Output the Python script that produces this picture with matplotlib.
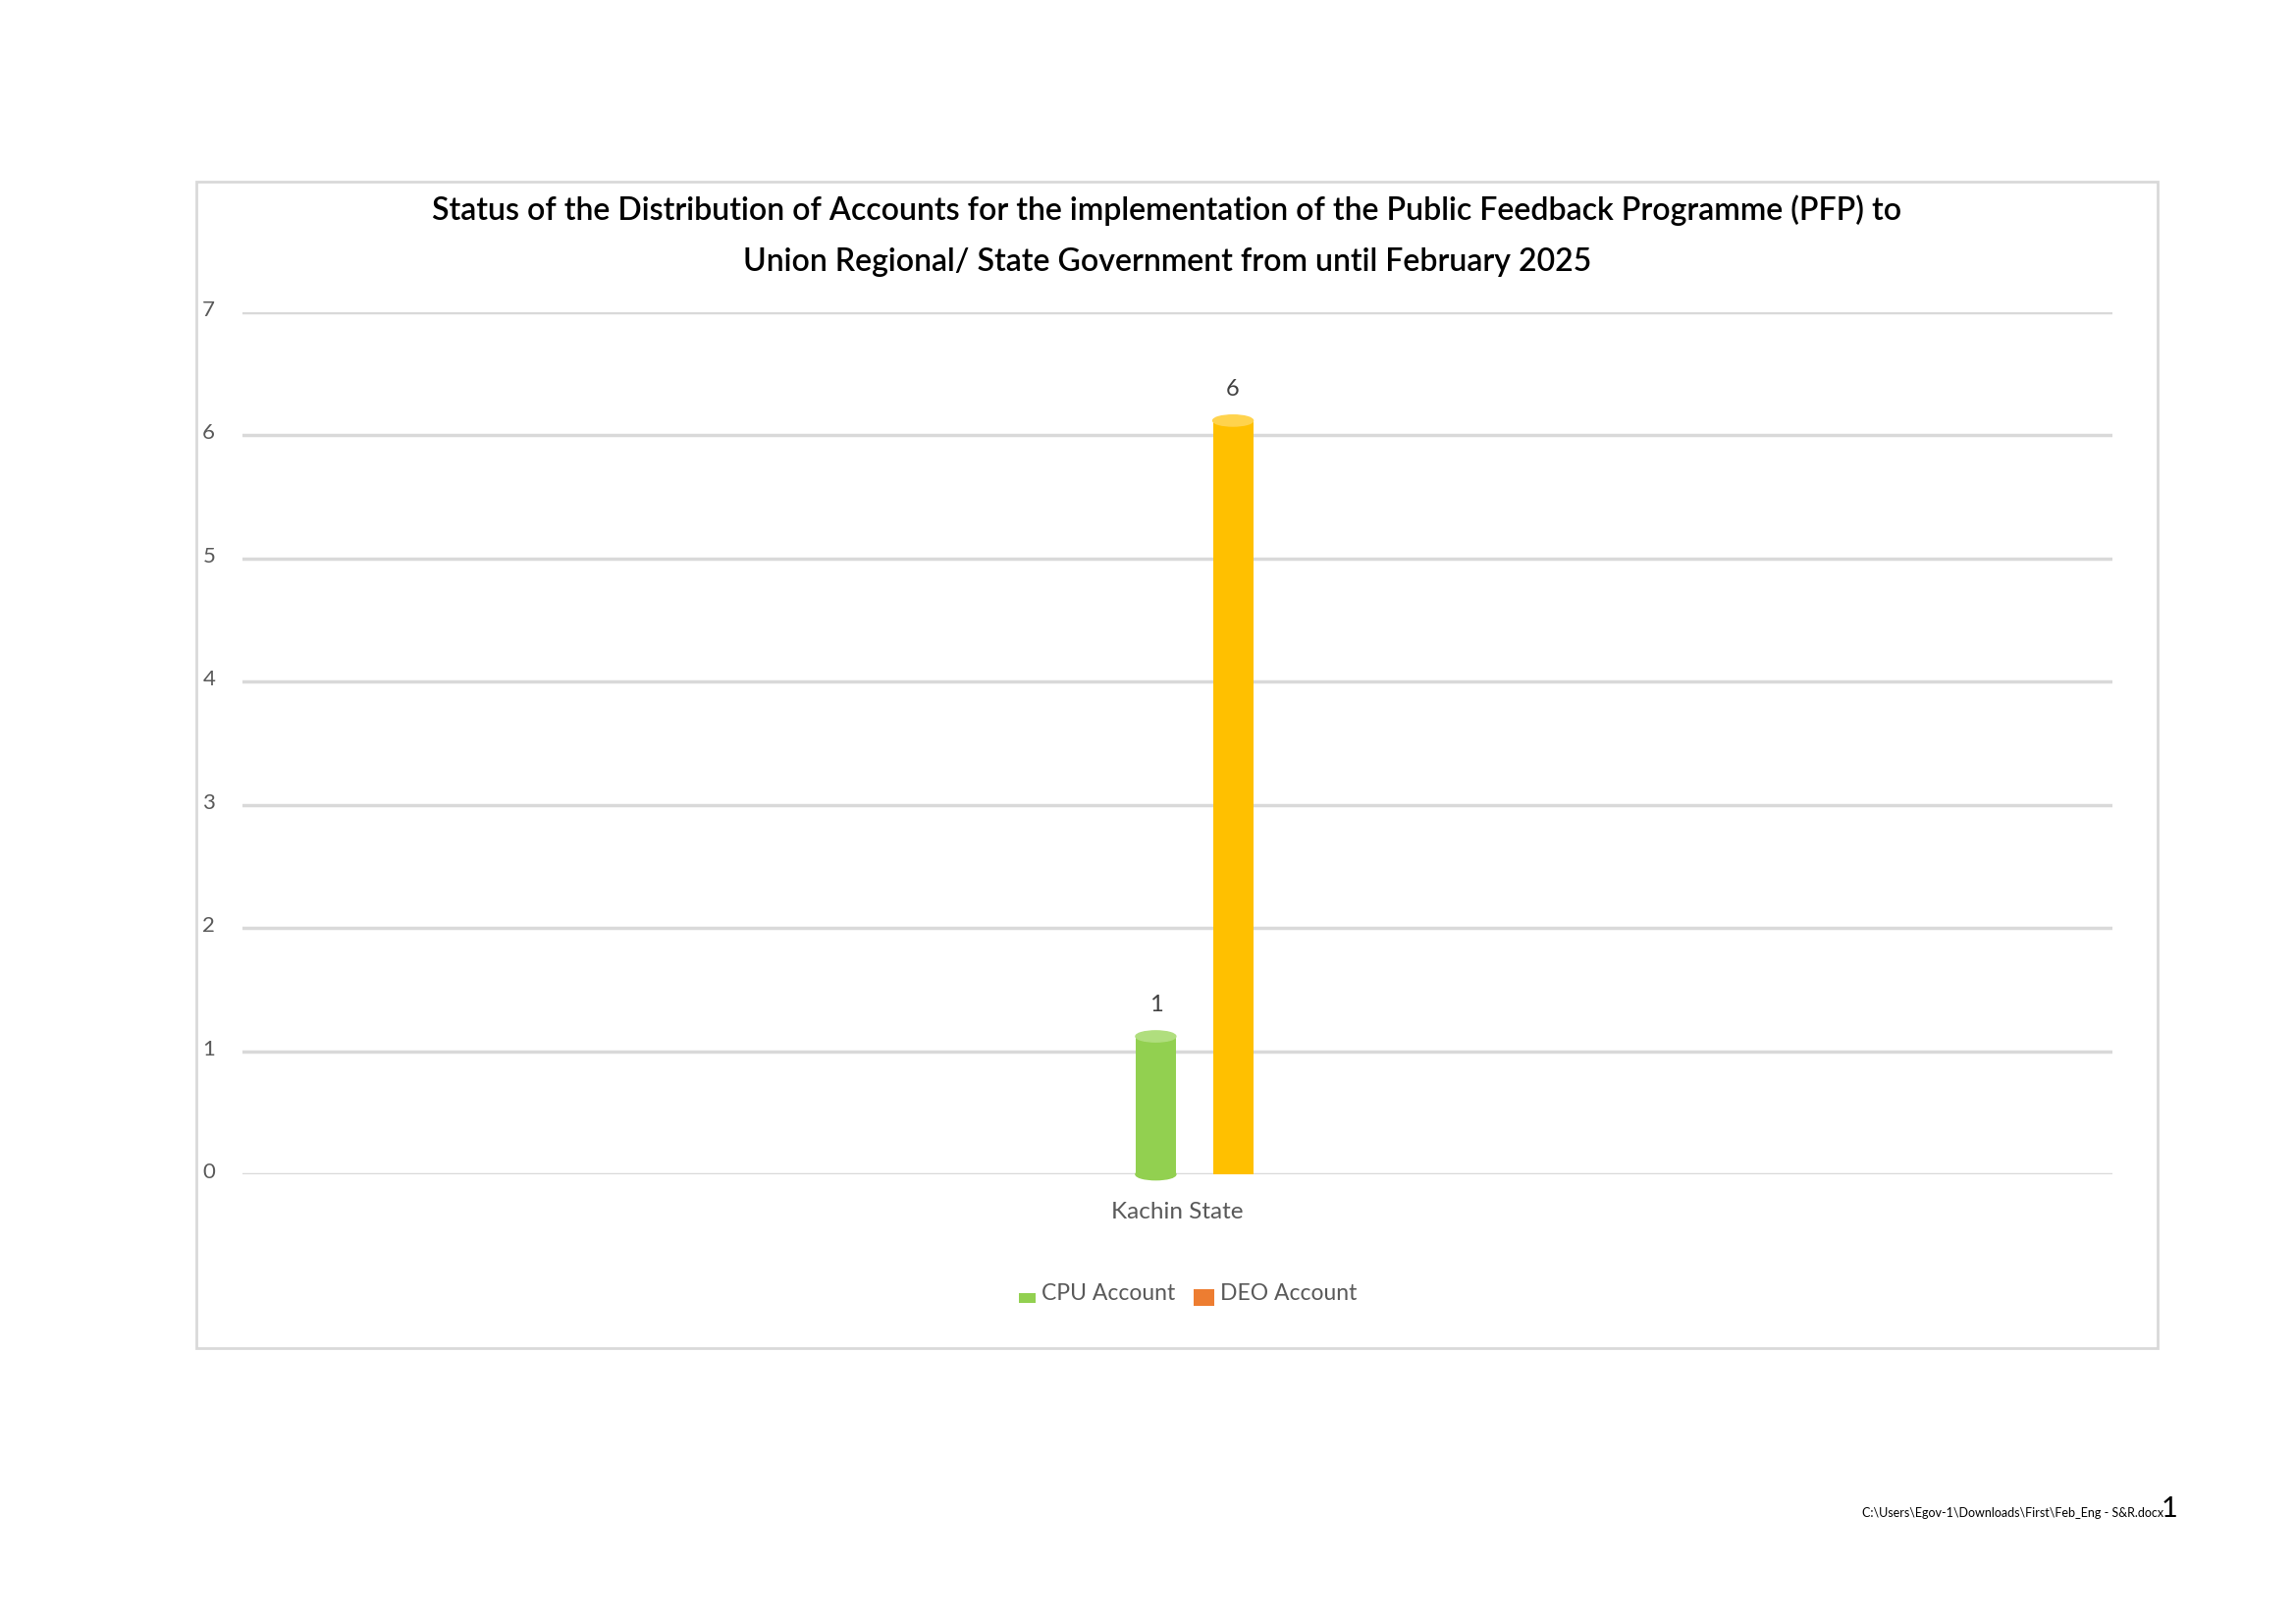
import numpy as np
import matplotlib
matplotlib.use('Agg')
import matplotlib.pyplot as plt
import matplotlib.transforms as mtransforms
from matplotlib.patches import Ellipse, Rectangle

# Data
categories = ['Kachin State']
series_names = ['CPU Account', 'DEO Account']
cpu_values = [1]
deo_values = [6]
y_ticks = [0, 1, 2, 3, 4, 5, 6, 7]
title_text = ('Status of the Distribution of Accounts for the implementation of the Public Feedback Programme (PFP) to\n'
              'Union Regional/ State Government from until February 2025')
footer_text = 'C:\\Users\\Egov-1\\Downloads\\First\\Feb_Eng - S&R.docx'

plt.rcParams['font.family'] = ['Lato', 'DejaVu Sans']

W, H = 2339, 1654
fig = plt.figure(figsize=(W/100, H/100), dpi=100)
fig.patch.set_facecolor('white')

# chart frame
fig.add_artist(Rectangle((200/W, 1-1373/H), (2198-200)/W, (1373-185)/H,
                         transform=fig.transFigure, fill=False,
                         edgecolor='#D9D9D9', linewidth=2))

ax = fig.add_axes([247/W, 1-1196/H, (2152-247)/W, (1196-318)/H])
ax.set_xlim(-0.5, 0.5)
ax.set_ylim(0, 7)
ax.set_yticks(y_ticks)
ax.grid(axis='y', color='#D9D9D9', linewidth=2.5)
ax.set_axisbelow(True)
for s in ax.spines.values():
    s.set_visible(False)
ax.tick_params(axis='y', length=0, pad=20, labelsize=16, labelcolor='#595959')
ax.tick_params(axis='x', length=0, pad=20, labelsize=17.5, labelcolor='#595959')
shift = mtransforms.ScaledTranslation(0, 4/100, fig.dpi_scale_trans)
for lab in ax.get_yticklabels():
    lab.set_transform(lab.get_transform() + shift)
x = np.arange(len(categories))
ax.set_xticks(x)
ax.set_xticklabels(categories)

# cylinders (pseudo 3D)
bw = 0.0215
depth = 0.12
cap_h = 0.09
colors = ['#92D050', '#FFC000']
caps = ['#B0DE7E', '#FFD34D']
bottoms = [True, False]
offsets = [-0.0116, 0.0297]
for vals, off, c, cc, rb in zip([cpu_values, deo_values], offsets, colors, caps, bottoms):
    for xi, v in zip(x, vals):
        top = v + depth
        ax.bar(xi + off, top, width=bw, color=c, zorder=3)
        if rb:
            ax.add_patch(Ellipse((xi + off, 0), bw, cap_h, color=c, zorder=3, clip_on=False))
        ax.add_patch(Ellipse((xi + off, top), bw, cap_h, color=cc, zorder=4))
        ax.text(xi + off, top + 0.17, str(v), ha='center', va='bottom',
                fontsize=17, color='#404040', zorder=5)

fig.text(1189/W, 1-240/H, title_text, ha='center', va='center', multialignment='center',
         fontsize=23, fontweight='semibold', color='black', linespacing=1.9)

# legend
leg_x = [1038, 1216]
leg_w = [17, 21]
leg_h = [10, 17]
leg_y = [1327, 1330]
leg_c = ['#92D050', '#ED7D31']
for name, lx, lw, lh, ly, lc in zip(series_names, leg_x, leg_w, leg_h, leg_y, leg_c):
    fig.add_artist(Rectangle((lx/W, 1-ly/H), lw/W, lh/H, transform=fig.transFigure,
                             facecolor=lc, edgecolor='none'))
    fig.text((lx + lw + 6)/W, 1-1317/H, name, ha='left', va='center',
             fontsize=16.5, color='#595959')

fig.text(2204/W, 1-1545/H, footer_text, ha='right', va='baseline', fontsize=9)
fig.text(2219/W, 1-1545/H, '1', ha='right', va='baseline', fontsize=21)

fig.savefig('out.png', dpi=100)
